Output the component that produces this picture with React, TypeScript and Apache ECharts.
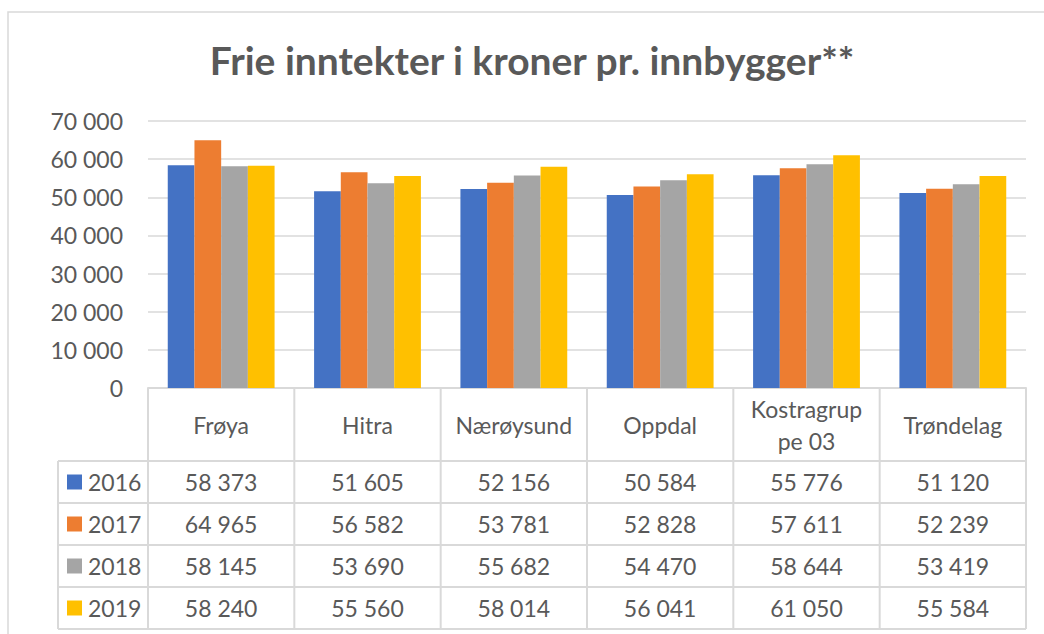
import React, { useEffect, useRef } from "react";
import * as echarts from "echarts";

const TITLE = "Frie inntekter i kroner pr. innbygger**";
const categories = ["Frøya", "Hitra", "Nærøysund", "Oppdal", "Kostragruppe 03", "Trøndelag"];
const years = ["2016", "2017", "2018", "2019"];
const v2016 = [58373, 51605, 52156, 50584, 55776, 51120];
const v2017 = [64965, 56582, 53781, 52828, 57611, 52239];
const v2018 = [58145, 53690, 55682, 54470, 58644, 53419];
const v2019 = [58240, 55560, 58014, 56041, 61050, 55584];
const seriesValues = [v2016, v2017, v2018, v2019];
const colors = ["#4472C4", "#ED7D31", "#A5A5A5", "#FFC000"];
const Y_MIN = 0;
const Y_MAX = 70000;
const Y_STEP = 10000;

const FONT = "Lato, 'Liberation Sans', sans-serif";
const TEXT = "#595959";
const LINE = "#D9D9D9";

// layout
const GRID_LEFT = 148;
const GRID_RIGHT = 1026;
const GRID_TOP = 121;
const AXIS_Y = 388;
const HEADER_BOTTOM = 461;
const ROW_H = 42;
const LEG_LEFT = 58;

const fmt = (n: number) => String(n).replace(/\B(?=(\d{3})+(?!\d))/g, " ");

export default function App() {
  const ref = useRef<HTMLDivElement>(null);
  useEffect(() => {
    if (!ref.current) return;
    const chart = echarts.init(ref.current, null, { renderer: "svg" });
    const colW = (GRID_RIGHT - GRID_LEFT) / categories.length;
    const tableBottom = HEADER_BOTTOM + ROW_H * years.length;
    const graphics: any[] = [];
    // frame
    graphics.push({
      type: "rect",
      shape: { x: 8, y: 12, width: 1060, height: 660 },
      style: { fill: "none", stroke: LINE, lineWidth: 1.5 },
      silent: true,
    });
    graphics.push({
      type: "text",
      x: 532,
      y: 60,
      style: {
        text: TITLE,
        fill: TEXT,
        font: `bold 39px ${FONT}`,
        align: "center",
        verticalAlign: "middle",
      },
    });
    // vertical lines
    for (let i = 0; i <= categories.length; i++) {
      const x = GRID_LEFT + i * colW;
      graphics.push({
        type: "line",
        shape: { x1: x, y1: AXIS_Y, x2: x, y2: tableBottom },
        style: { stroke: LINE, lineWidth: 2 },
      });
    }
    graphics.push({
      type: "line",
      shape: { x1: LEG_LEFT, y1: HEADER_BOTTOM, x2: LEG_LEFT, y2: tableBottom },
      style: { stroke: LINE, lineWidth: 2 },
    });
    // horizontal lines
    for (let r = 0; r <= years.length; r++) {
      const y = HEADER_BOTTOM + r * ROW_H;
      graphics.push({
        type: "line",
        shape: { x1: LEG_LEFT, y1: y, x2: GRID_RIGHT, y2: y },
        style: { stroke: LINE, lineWidth: 2 },
      });
    }
    // legend cells + values
    years.forEach((yr, r) => {
      const cy = HEADER_BOTTOM + r * ROW_H + ROW_H / 2;
      graphics.push({
        type: "rect",
        shape: { x: 67, y: cy - 7.5, width: 15, height: 15 },
        style: { fill: colors[r] },
      });
      graphics.push({
        type: "text",
        x: 88,
        y: cy,
        style: { text: yr, fill: TEXT, font: `23px ${FONT}`, align: "left", verticalAlign: "middle" },
      });
      seriesValues[r].forEach((v, c) => {
        graphics.push({
          type: "text",
          x: GRID_LEFT + (c + 0.5) * colW,
          y: cy,
          style: { text: fmt(v), fill: TEXT, font: `23px ${FONT}`, align: "center", verticalAlign: "middle" },
        });
      });
    });

    chart.setOption({
      animation: false,
      backgroundColor: "#ffffff",
      grid: { left: GRID_LEFT, top: GRID_TOP, width: GRID_RIGHT - GRID_LEFT, height: AXIS_Y - GRID_TOP, containLabel: false },
      xAxis: {
        type: "category",
        data: categories,
        axisLine: { show: true, lineStyle: { color: LINE, width: 2 } },
        axisTick: { show: false },
        axisLabel: {
          color: TEXT,
          fontFamily: FONT,
          fontSize: 23,
          margin: 37,
          verticalAlign: "middle",
          lineHeight: 32,
          interval: 0,
          formatter: (v: string) => (v === "Kostragruppe 03" ? "Kostragrup\npe 03" : v),
        },
      },
      yAxis: {
        type: "value",
        min: Y_MIN,
        max: Y_MAX,
        interval: Y_STEP,
        axisLine: { show: false },
        axisTick: { show: false },
        splitLine: { lineStyle: { color: LINE, width: 1.5 } },
        axisLabel: { color: TEXT, fontFamily: FONT, fontSize: 23, margin: 25, formatter: (v: number) => fmt(v) },
      },
      series: years.map((yr, i) => ({
        name: yr,
        type: "bar",
        data: seriesValues[i],
        itemStyle: { color: colors[i] },
        barGap: "0%",
        barCategoryGap: "27%",
      })),
      graphic: graphics,
    });
    return () => chart.dispose();
  }, []);
  return <div ref={ref} style={{ position: "absolute", left: 0, top: 0, width: 1044, height: 634 }} />;
}
